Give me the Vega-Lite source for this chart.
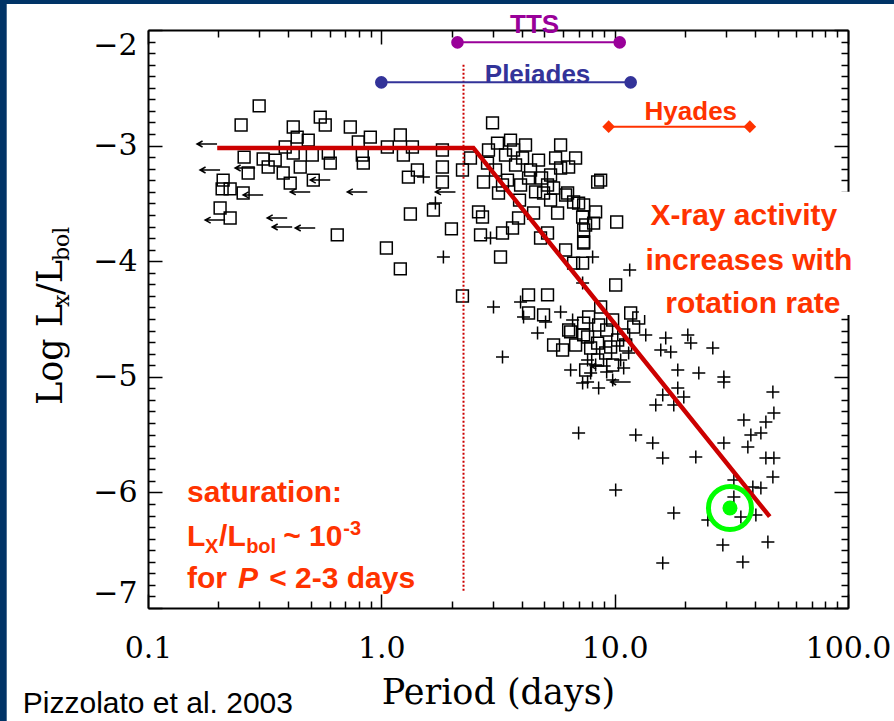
{
  "$schema": "https://vega.github.io/schema/vega-lite/v6.json",
  "width": 700,
  "height": 578,
  "autosize": "none",
  "padding": {"left": 148, "top": 30, "right": 46, "bottom": 113},
  "background": "white",
  "config": {"view": {"stroke": null}, "axis": {"grid": false}},
  "datasets": {
    "strips": [
      {"P": 0.01, "P2": 0.0248, "L": -1.5, "L2": -8.5},
      {"P": 0.01, "P2": 300, "L": -1.5, "L2": -1.775}
    ],
    "squares": [
      {"P": 0.2995, "L": -2.657}, {"P": 0.2506, "L": -2.822}, {"P": 0.4192, "L": -2.839}, {"P": 0.4359, "L": -2.926},
      {"P": 0.4862, "L": -2.952}, {"P": 0.5473, "L": -2.753}, {"P": 0.575, "L": -2.822}, {"P": 0.2582, "L": -3.099},
      {"P": 0.3115, "L": -3.116}, {"P": 0.3273, "L": -3.185}, {"P": 0.3509, "L": -3.125}, {"P": 0.2687, "L": -3.237},
      {"P": 0.2099, "L": -3.298}, {"P": 0.2078, "L": -3.375}, {"P": 0.2249, "L": -3.375}, {"P": 0.2557, "L": -3.41},
      {"P": 0.2037, "L": -3.54}, {"P": 0.2249, "L": -3.626}, {"P": 0.3873, "L": -3.012}, {"P": 0.4192, "L": -3.064},
      {"P": 0.4492, "L": -3.185}, {"P": 0.5059, "L": -3.081}, {"P": 0.5923, "L": -3.064}, {"P": 0.6042, "L": -3.151},
      {"P": 0.5109, "L": -3.298}, {"P": 0.3797, "L": -3.237}, {"P": 0.4069, "L": -3.324}, {"P": 0.7362, "L": -2.839},
      {"P": 0.7966, "L": -2.969}, {"P": 0.8971, "L": -2.926}, {"P": 0.8287, "L": -3.081}, {"P": 0.837, "L": -3.151},
      {"P": 1.061, "L": -3.012}, {"P": 1.206, "L": -2.908}, {"P": 1.359, "L": -3.012}, {"P": 1.243, "L": -3.081},
      {"P": 1.827, "L": -3.038}, {"P": 1.827, "L": -3.185}, {"P": 1.427, "L": -3.211}, {"P": 1.306, "L": -3.272},
      {"P": 1.827, "L": -3.315}, {"P": 2.227, "L": -3.211}, {"P": 2.41, "L": -3.107}, {"P": 0.6473, "L": -3.773},
      {"P": 1.051, "L": -3.886}, {"P": 1.206, "L": -4.067}, {"P": 1.332, "L": -3.592}, {"P": 1.672, "L": -3.557},
      {"P": 1.997, "L": -3.721}, {"P": 2.227, "L": -4.301}, {"P": 2.996, "L": -2.804}, {"P": 3.147, "L": -2.978},
      {"P": 3.578, "L": -2.952}, {"P": 4.15, "L": -2.995}, {"P": 2.851, "L": -3.151}, {"P": 2.741, "L": -3.315},
      {"P": 2.609, "L": -3.574}, {"P": 2.714, "L": -3.618}, {"P": 2.661, "L": -3.773}, {"P": 3.242, "L": -3.964},
      {"P": 3.306, "L": -3.756}, {"P": 3.65, "L": -3.713}, {"P": 3.873, "L": -3.626}, {"P": 3.178, "L": -3.41},
      {"P": 4.492, "L": -3.583}, {"P": 4.958, "L": -3.41}, {"P": 5.156, "L": -3.341}, {"P": 5.694, "L": -3.583},
      {"P": 6.163, "L": -3.427}, {"P": 6.668, "L": -3.488}, {"P": 7.006, "L": -3.497}, {"P": 7.289, "L": -3.618},
      {"P": 7.508, "L": -3.687}, {"P": 8.125, "L": -3.67}, {"P": 6.163, "L": -3.903}, {"P": 4.812, "L": -3.799},
      {"P": 5.156, "L": -3.756}, {"P": 7.362, "L": -3.843}, {"P": 6.668, "L": -4.016}, {"P": 7.289, "L": -4.016},
      {"P": 5.865, "L": -3.194}, {"P": 6.349, "L": -3.185}, {"P": 6.286, "L": -3.41}, {"P": 8.452, "L": -3.315},
      {"P": 8.709, "L": -3.298}, {"P": 7.362, "L": -3.514}, {"P": 8.287, "L": -3.574}, {"P": 10.2, "L": -3.661},
      {"P": 7.362, "L": -3.73}, {"P": 7.362, "L": -3.834}, {"P": 10.1, "L": -4.206}, {"P": 3.406, "L": -3.081},
      {"P": 3.76, "L": -3.168}, {"P": 4.03, "L": -3.107}, {"P": 4.36, "L": -3.211}, {"P": 4.718, "L": -3.125},
      {"P": 3.474, "L": -3.298}, {"P": 3.951, "L": -3.341}, {"P": 4.581, "L": -3.401}, {"P": 5.313, "L": -3.254},
      {"P": 5.583, "L": -3.107}, {"P": 4.275, "L": -4.292}, {"P": 5.156, "L": -4.292}, {"P": 4.275, "L": -4.448},
      {"P": 4.958, "L": -4.465}, {"P": 7.733, "L": -4.483}, {"P": 7.362, "L": -4.535}, {"P": 6.475, "L": -4.612},
      {"P": 5.473, "L": -4.725}, {"P": 5.983, "L": -4.768}, {"P": 7.362, "L": -4.638}, {"P": 8.709, "L": -4.396},
      {"P": 11.71, "L": -4.448}, {"P": 12.68, "L": -4.491}, {"P": 12.06, "L": -4.569}, {"P": 7.655, "L": -4.656},
      {"P": 8.452, "L": -4.708}, {"P": 9.612, "L": -4.742}, {"P": 9.15, "L": -4.794}, {"P": 10.3, "L": -4.682},
      {"P": 10.93, "L": -4.638}, {"P": 8.452, "L": -4.855}, {"P": 9.804, "L": -4.898},
      {"P": 6.349, "L": -4.595}, {"P": 6.801, "L": -4.725}, {"P": 7.888, "L": -4.751}, {"P": 8.538, "L": -4.552},
      {"P": 9.241, "L": -4.595}, {"P": 9.804, "L": -4.509}, {"P": 11.15, "L": -4.725}, {"P": 7.508, "L": -4.941},
      {"P": 2.879, "L": -3.038}, {"P": 3.086, "L": -3.211}, {"P": 3.306, "L": -3.341}, {"P": 3.686, "L": -3.038},
      {"P": 4.275, "L": -3.28}, {"P": 4.861, "L": -3.28}, {"P": 5.473, "L": -3.367}, {"P": 3.911, "L": -3.471},
      {"P": 5.313, "L": -3.471}, {"P": 5.865, "L": -2.995}, {"P": 6.801, "L": -3.107}
    ],
    "plus": [
      {"P": 1.515, "L": -3.272}, {"P": 1.705, "L": -3.497}, {"P": 1.845, "L": -3.964}, {"P": 2.937, "L": -3.799},
      {"P": 3.951, "L": -4.353}, {"P": 3.025, "L": -4.396}, {"P": 4.069, "L": -4.483}, {"P": 5.057, "L": -4.526},
      {"P": 5.865, "L": -4.439}, {"P": 6.603, "L": -4.509}, {"P": 4.672, "L": -4.621}, {"P": 3.306, "L": -4.829},
      {"P": 7.655, "L": -4.855}, {"P": 7.888, "L": -4.967}, {"P": 8.045, "L": -3.964}, {"P": 7.289, "L": -4.189},
      {"P": 11.6, "L": -4.076}, {"P": 13.59, "L": -4.638}, {"P": 16.55, "L": -4.664}, {"P": 15.76, "L": -4.768},
      {"P": 17.39, "L": -4.785}, {"P": 20.58, "L": -4.638}, {"P": 21.2, "L": -4.708}, {"P": 26.34, "L": -4.751},
      {"P": 18.64, "L": -4.941}, {"P": 22.94, "L": -4.967}, {"P": 29.37, "L": -5.002}, {"P": 7.655, "L": -5.045},
      {"P": 18.64, "L": -5.097}, {"P": 16.07, "L": -5.157}, {"P": 19.78, "L": -5.175}, {"P": 15.0, "L": -5.244},
      {"P": 17.92, "L": -5.244}, {"P": 29.37, "L": -5.045}, {"P": 47.65, "L": -5.131}, {"P": 35.78, "L": -5.374},
      {"P": 44.47, "L": -5.391}, {"P": 48.13, "L": -5.313}, {"P": 42.33, "L": -5.486}, {"P": 38.34, "L": -5.503},
      {"P": 37.22, "L": -5.607}, {"P": 12.31, "L": -5.503}, {"P": 14.56, "L": -5.573}, {"P": 16.07, "L": -5.702},
      {"P": 22.27, "L": -5.694}, {"P": 29.37, "L": -5.573}, {"P": 44.47, "L": -5.702}, {"P": 48.13, "L": -5.702},
      {"P": 47.65, "L": -5.867}, {"P": 32.42, "L": -5.893}, {"P": 39.1, "L": -5.953}, {"P": 42.33, "L": -5.962},
      {"P": 10.1, "L": -5.979}, {"P": 32.42, "L": -6.04}, {"P": 34.74, "L": -6.213}, {"P": 40.29, "L": -6.196},
      {"P": 25.07, "L": -6.239}, {"P": 17.92, "L": -6.178}, {"P": 29.08, "L": -6.455}, {"P": 45.36, "L": -6.429},
      {"P": 16.07, "L": -6.611}, {"P": 35.43, "L": -6.602}, {"P": 7.289, "L": -5.054}, {"P": 7.006, "L": -5.486},
      {"P": 8.287, "L": -4.898}, {"P": 10.93, "L": -4.924},
      {"P": 6.475, "L": -4.941}, {"P": 9.241, "L": -4.958}, {"P": 9.804, "L": -5.028}, {"P": 10.61, "L": -4.855},
      {"P": 11.48, "L": -4.794}, {"P": 8.538, "L": -5.097}
    ],
    "arrows": [
      {"P": 0.1791, "L": -2.986}, {"P": 0.1845, "L": -3.211}, {"P": 0.2608, "L": -3.194}, {"P": 0.2822, "L": -3.427},
      {"P": 0.194, "L": -3.644}, {"P": 0.3578, "L": -3.626}, {"P": 0.3759, "L": -3.704}, {"P": 0.4492, "L": -3.401},
      {"P": 0.7888, "L": -3.401}, {"P": 1.883, "L": -3.401}, {"P": 0.4719, "L": -3.713}, {"P": 10.61, "L": -5.045},
      {"P": 8.709, "L": -4.907}, {"P": 0.5473, "L": -3.298}
    ],
    "fit": [{"P": 0.198, "L": -3.02}, {"P": 2.48, "L": -3.02}, {"P": 46.2, "L": -6.21}],
    "sat": [{"P": 2.25, "L": -2.3, "L2": -6.86}],
    "ranges": [
      {"name": "TTS", "P": 2.12, "L": -2.107}, {"name": "TTS", "P": 10.51, "L": -2.107},
      {"name": "Pleiades", "P": 1.0, "L": -2.453}, {"name": "Pleiades", "P": 11.71, "L": -2.453},
      {"name": "Hyades", "P": 9.424, "L": -2.836}, {"name": "Hyades", "P": 37.96, "L": -2.836}
    ],
    "rangeNames": [
      {"name": "TTS", "t": "TTS", "P": 4.536, "L": -2.026},
      {"name": "Pleiades", "t": "Pleiades", "P": 4.672, "L": -2.458},
      {"name": "Hyades", "t": "Hyades", "P": 21.2, "L": -2.779}
    ],
    "sun": [{"P": 31.2, "L": -6.135}],
    "box": [{"P": 12.7, "P2": 116, "L": -3.4, "L2": -4.465}],
    "xray": [
      {"t": "X-ray activity", "P": 35.78, "L": -3.687},
      {"t": "increases with", "P": 37.58, "L": -4.076},
      {"t": "rotation rate", "P": 39.1, "L": -4.448}
    ],
    "sat30": [
      {"t": "saturation:", "P": 0.147, "L": -6.083},
      {"t": "L", "P": 0.147, "L": -6.464},
      {"t": "/L", "P": 0.2017, "L": -6.464},
      {"t": "~ 10", "P": 0.3797, "L": -6.464},
      {"t": "for", "P": 0.147, "L": -6.827},
      {"t": "< 2-3 days", "P": 0.3306, "L": -6.827}
    ],
    "sat20": [
      {"t": "X", "P": 0.1757, "L": -6.524},
      {"t": "bol", "P": 0.2634, "L": -6.524},
      {"t": "-3", "P": 0.687, "L": -6.369}
    ],
    "satItalic": [{"t": "P", "P": 0.2433, "L": -6.827}],
    "ytitleBig": [
      {"t": "Log L", "P": 0.04276, "L": -5.244},
      {"t": "/L", "P": 0.04276, "L": -4.292}
    ],
    "ytitleSub": [
      {"t": "x", "P": 0.0458, "L": -4.396},
      {"t": "bol", "P": 0.0458, "L": -3.998}
    ],
    "credit": [{"t": "Pizzolato et al. 2003", "P": 0.02907, "L": -7.908}]
  },
  "encoding": {
    "x": {"field": "P", "type": "quantitative", "scale": {"type": "log", "domain": [0.1, 100], "nice": false}, "axis": null},
    "y": {"field": "L", "type": "quantitative", "scale": {"domain": [-7, -2], "nice": false, "zero": false}, "axis": null}
  },
  "layer": [
    {
      "data": {"name": "strips"},
      "mark": {"type": "rect", "fill": "#003366"},
      "encoding": {"x2": {"field": "P2"}, "y2": {"field": "L2"}}
    },
    {
      "data": {"name": "squares"},
      "mark": {"type": "point", "shape": "square", "filled": false, "stroke": "black", "strokeWidth": 1.5, "size": 140, "opacity": 1},
      "encoding": {
        "x": {"field": "P", "type": "quantitative", "scale": {"type": "log", "domain": [0.1, 100], "nice": false},
          "axis": {"orient": "bottom", "values": [0.1, 1, 10, 100], "format": ".1f", "tickSize": -14, "tickWidth": 1.5, "tickColor": "black",
            "domain": true, "domainColor": "black", "domainWidth": 2, "labelFont": "DejaVu Serif", "labelFontSize": 30, "labelColor": "black",
            "labelPadding": 39, "labelFlush": false, "labelOverlap": false,
            "title": "Period (days)", "titleFont": "DejaVu Serif", "titleFontSize": 35, "titleFontWeight": "normal", "titleColor": "black", "titlePadding": 12}},
        "y": {"field": "L", "type": "quantitative", "scale": {"domain": [-7, -2], "nice": false, "zero": false},
          "axis": {"orient": "left", "values": [-7, -6, -5, -4, -3, -2], "format": "d", "tickSize": -14, "tickWidth": 1.5, "tickColor": "black",
            "domain": true, "domainColor": "black", "domainWidth": 2, "labelFont": "DejaVu Serif", "labelFontSize": 30, "labelColor": "black",
            "labelPadding": 25, "labelFlush": true, "labelOverlap": false, "title": null}}
      }
    },
    {
      "data": {"name": "plus"},
      "mark": {"type": "point", "shape": "M-1,0L1,0M0,-1L0,1", "filled": false, "stroke": "black", "strokeWidth": 1.5, "size": 169, "opacity": 1},
      "encoding": {
        "x": {"field": "P", "type": "quantitative", "scale": {"type": "log", "domain": [0.1, 100], "nice": false},
          "axis": {"orient": "bottom", "values": [0.2, 0.3, 0.4, 0.5, 0.6, 0.7, 0.8, 0.9, 2, 3, 4, 5, 6, 7, 8, 9, 20, 30, 40, 50, 60, 70, 80, 90],
            "tickSize": -7, "tickWidth": 1.5, "tickColor": "black", "domain": false, "labels": false, "title": null}},
        "y": {"field": "L", "type": "quantitative", "scale": {"domain": [-7, -2], "nice": false, "zero": false},
          "axis": {"orient": "left", "values": [-6.9, -6.8, -6.7, -6.6, -6.5, -6.4, -6.3, -6.2, -6.1, -5.9, -5.8, -5.7, -5.6, -5.5, -5.4, -5.3, -5.2, -5.1, -4.9, -4.8, -4.7, -4.6, -4.5, -4.4, -4.3, -4.2, -4.1, -3.9, -3.8, -3.7, -3.6, -3.5, -3.4, -3.3, -3.2, -3.1, -2.9, -2.8, -2.7, -2.6, -2.5, -2.4, -2.3, -2.2, -2.1],
            "tickSize": -7, "tickWidth": 1.5, "tickColor": "black", "domain": false, "labels": false, "title": null}}
      }
    },
    {
      "data": {"name": "arrows"},
      "mark": {"type": "point", "shape": "M1,0L-1,0M-0.45,-0.3L-1,0L-0.45,0.3", "filled": false, "stroke": "black", "strokeWidth": 1.5, "size": 400, "opacity": 1},
      "encoding": {
        "x": {"field": "P", "type": "quantitative", "scale": {"type": "log", "domain": [0.1, 100], "nice": false},
          "axis": {"orient": "top", "values": [0.1, 1, 10, 100], "tickSize": -14, "tickWidth": 1.5, "tickColor": "black",
            "domain": true, "domainColor": "black", "domainWidth": 2, "labels": false, "title": null}},
        "y": {"field": "L", "type": "quantitative", "scale": {"domain": [-7, -2], "nice": false, "zero": false},
          "axis": {"orient": "right", "values": [-7, -6, -5, -4, -3, -2], "tickSize": -14, "tickWidth": 1.5, "tickColor": "black",
            "domain": true, "domainColor": "black", "domainWidth": 2, "labels": false, "title": null}}
      }
    },
    {
      "data": {"name": "fit"},
      "mark": {"type": "line", "stroke": "#CC0000", "strokeWidth": 4.5},
      "encoding": {
        "x": {"field": "P", "type": "quantitative", "scale": {"type": "log", "domain": [0.1, 100], "nice": false},
          "axis": {"orient": "top", "values": [0.2, 0.3, 0.4, 0.5, 0.6, 0.7, 0.8, 0.9, 2, 3, 4, 5, 6, 7, 8, 9, 20, 30, 40, 50, 60, 70, 80, 90],
            "tickSize": -7, "tickWidth": 1.5, "tickColor": "black", "domain": false, "labels": false, "title": null}},
        "y": {"field": "L", "type": "quantitative", "scale": {"domain": [-7, -2], "nice": false, "zero": false},
          "axis": {"orient": "right", "values": [-6.9, -6.8, -6.7, -6.6, -6.5, -6.4, -6.3, -6.2, -6.1, -5.9, -5.8, -5.7, -5.6, -5.5, -5.4, -5.3, -5.2, -5.1, -4.9, -4.8, -4.7, -4.6, -4.5, -4.4, -4.3, -4.2, -4.1, -3.9, -3.8, -3.7, -3.6, -3.5, -3.4, -3.3, -3.2, -3.1, -2.9, -2.8, -2.7, -2.6, -2.5, -2.4, -2.3, -2.2, -2.1],
            "tickSize": -7, "tickWidth": 1.5, "tickColor": "black", "domain": false, "labels": false, "title": null}}
      }
    },
    {
      "data": {"name": "sat"},
      "mark": {"type": "rule", "stroke": "#CC0000", "strokeWidth": 2, "strokeDash": [2, 2]},
      "encoding": {"y2": {"field": "L2"}}
    },
    {
      "data": {"name": "ranges"},
      "mark": {"type": "line", "strokeWidth": 2},
      "encoding": {
        "detail": {"field": "name"},
        "color": {"field": "name", "type": "nominal", "scale": {"domain": ["TTS", "Pleiades", "Hyades"], "range": ["#990099", "#333399", "#FF3300"]}, "legend": null}
      }
    },
    {
      "data": {"name": "ranges"},
      "transform": [{"filter": "datum.name !== 'Hyades'"}],
      "mark": {"type": "point", "shape": "circle", "filled": true, "size": 160, "opacity": 1},
      "encoding": {"color": {"field": "name", "type": "nominal", "legend": null}}
    },
    {
      "data": {"name": "ranges"},
      "transform": [{"filter": "datum.name === 'Hyades'"}],
      "mark": {"type": "point", "shape": "diamond", "filled": true, "size": 160, "opacity": 1},
      "encoding": {"color": {"field": "name", "type": "nominal", "legend": null}}
    },
    {
      "data": {"name": "rangeNames"},
      "mark": {"type": "text", "font": "Liberation Sans", "fontSize": 26, "fontWeight": "bold", "align": "center", "baseline": "alphabetic"},
      "encoding": {"text": {"field": "t"}, "color": {"field": "name", "type": "nominal", "legend": null}}
    },
    {
      "data": {"name": "sun"},
      "mark": {"type": "point", "shape": "circle", "filled": false, "stroke": "#00FF00", "strokeWidth": 5, "size": 1850, "opacity": 1}
    },
    {
      "data": {"name": "sun"},
      "mark": {"type": "point", "shape": "circle", "filled": true, "fill": "#00FF00", "size": 225, "opacity": 1}
    },
    {
      "data": {"name": "box"},
      "mark": {"type": "rect", "fill": "white"},
      "encoding": {"x2": {"field": "P2"}, "y2": {"field": "L2"}}
    },
    {
      "data": {"name": "xray"},
      "mark": {"type": "text", "font": "Liberation Sans", "fontSize": 30, "fontWeight": "bold", "align": "center", "baseline": "alphabetic", "fill": "#FF3300"},
      "encoding": {"text": {"field": "t"}}
    },
    {
      "data": {"name": "sat30"},
      "mark": {"type": "text", "font": "Liberation Sans", "fontSize": 30, "fontWeight": "bold", "align": "left", "baseline": "alphabetic", "fill": "#FF3300"},
      "encoding": {"text": {"field": "t"}}
    },
    {
      "data": {"name": "sat20"},
      "mark": {"type": "text", "font": "Liberation Sans", "fontSize": 20, "fontWeight": "bold", "align": "left", "baseline": "alphabetic", "fill": "#FF3300"},
      "encoding": {"text": {"field": "t"}}
    },
    {
      "data": {"name": "satItalic"},
      "mark": {"type": "text", "font": "Liberation Sans", "fontSize": 30, "fontWeight": "bold", "fontStyle": "italic", "align": "left", "baseline": "alphabetic", "fill": "#FF3300"},
      "encoding": {"text": {"field": "t"}}
    },
    {
      "data": {"name": "ytitleBig"},
      "mark": {"type": "text", "font": "DejaVu Serif", "fontSize": 35, "angle": 270, "align": "left", "baseline": "alphabetic", "fill": "black"},
      "encoding": {"text": {"field": "t"}}
    },
    {
      "data": {"name": "ytitleSub"},
      "mark": {"type": "text", "font": "DejaVu Serif", "fontSize": 22, "angle": 270, "align": "left", "baseline": "alphabetic", "fill": "black"},
      "encoding": {"text": {"field": "t"}}
    },
    {
      "data": {"name": "credit"},
      "mark": {"type": "text", "font": "Liberation Sans", "fontSize": 30, "align": "left", "baseline": "alphabetic", "fill": "black"},
      "encoding": {"text": {"field": "t"}}
    }
  ],
  "resolve": {"axis": {"x": "independent", "y": "independent"}}
}
